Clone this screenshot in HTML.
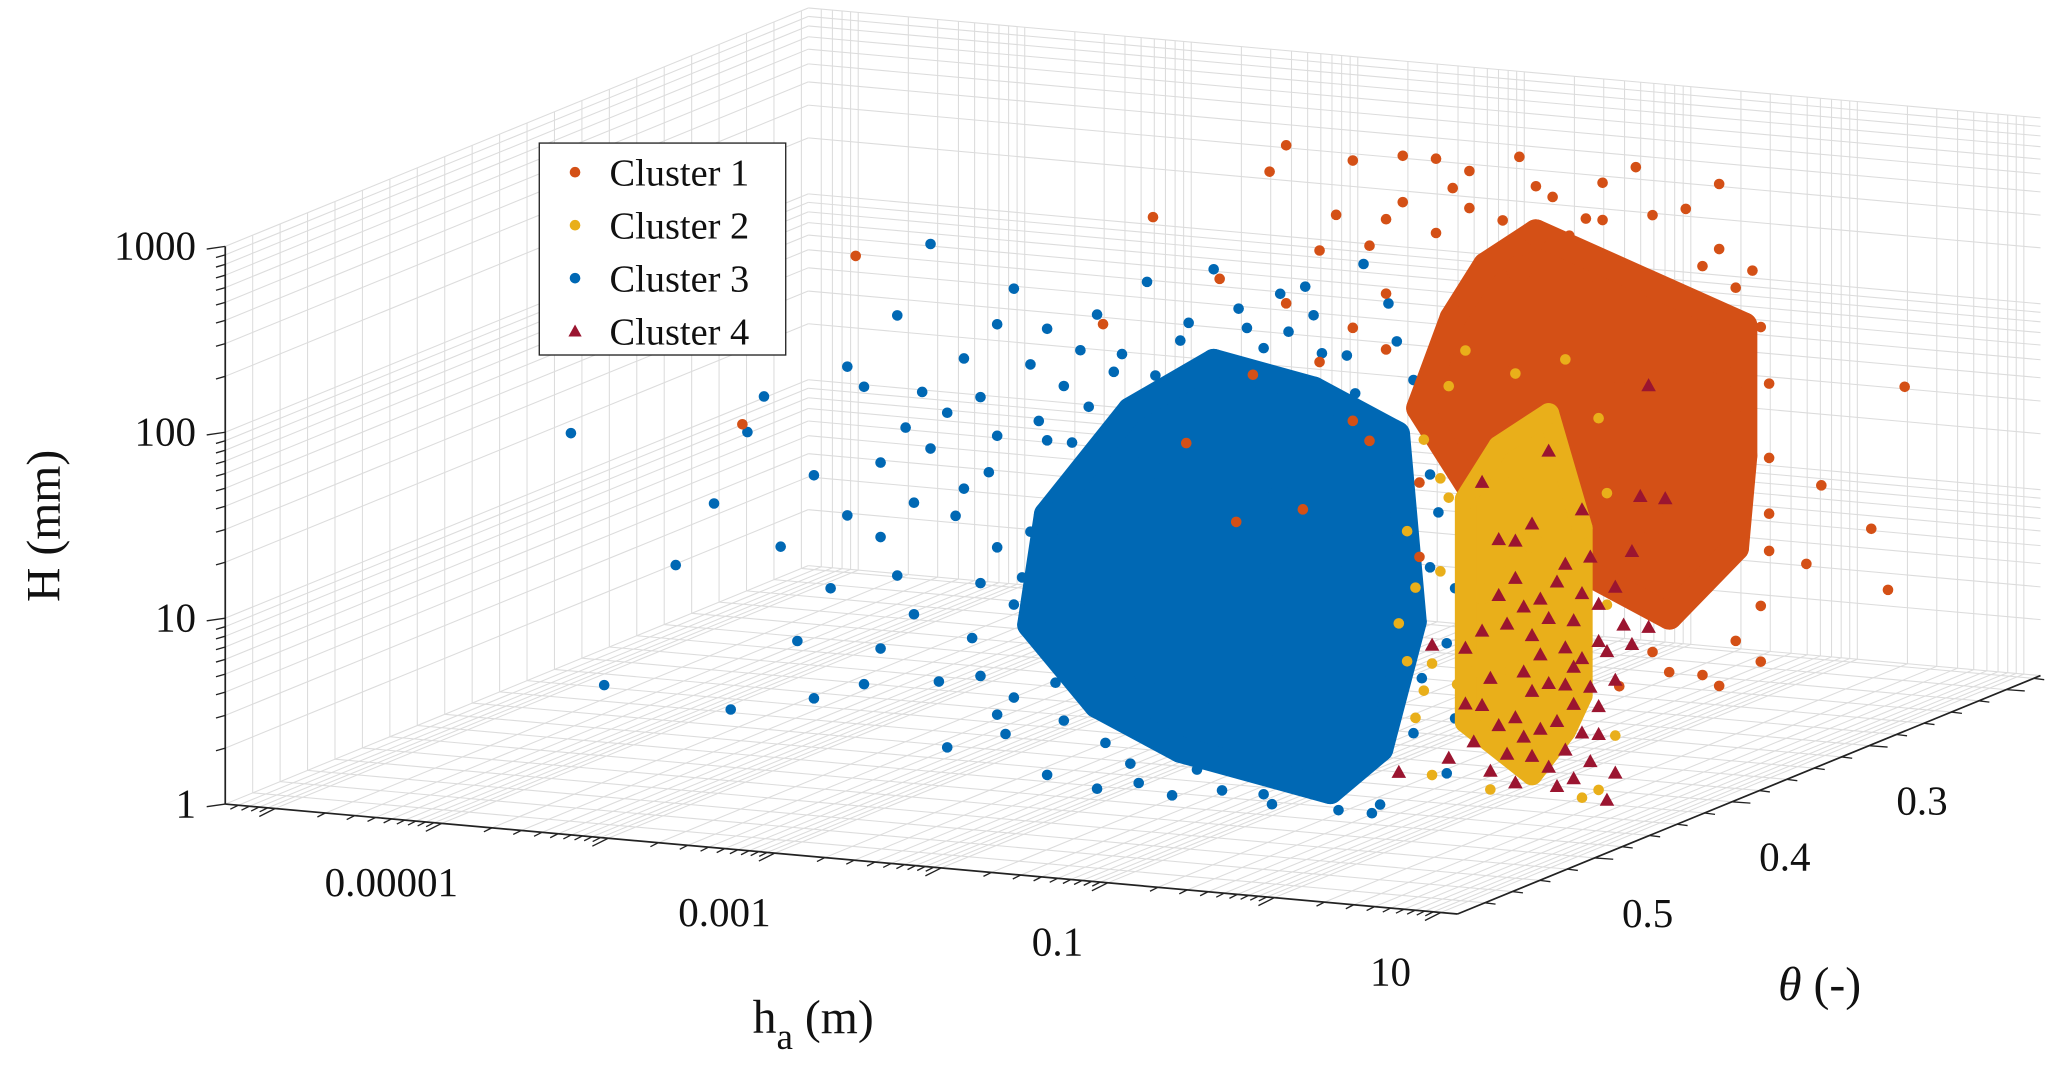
<!DOCTYPE html>
<html><head><meta charset="utf-8"><style>
html,body{margin:0;padding:0;background:#fff}
svg{display:block}
text{font-family:"Liberation Serif",serif;fill:#111}
</style></head><body>
<svg id="chart" width="2067" height="1069" viewBox="0 0 1560 807" preserveAspectRatio="none" xmlns="http://www.w3.org/2000/svg">
<g id="grid"></g>
<g id="axes"></g>
<g id="pts"></g>
<g id="legend">
<rect x="407" y="108" width="186" height="160" fill="#fff" stroke="#222" stroke-width="1"/>
<circle cx="434" cy="130" r="4" fill="#D45016"/><text x="460" y="140" font-size="29">Cluster 1</text>
<circle cx="434" cy="170" r="4" fill="#E9AF1A"/><text x="460" y="180" font-size="29">Cluster 2</text>
<circle cx="434" cy="210" r="4" fill="#0068B4"/><text x="460" y="220" font-size="29">Cluster 3</text>
<polygon points="434,245 439,254 429,254" fill="#9B1530"/><text x="460" y="260" font-size="29">Cluster 4</text>
</g>
<text x="45" y="397" font-size="36" text-anchor="middle" transform="rotate(-90 45 397)">H (mm)</text>
<text x="568" y="780" font-size="36">h<tspan font-size="28" dy="12">a</tspan><tspan dy="-12"> (m)</tspan></text>
<text x="1342" y="755" font-size="36"><tspan font-style="italic">θ</tspan> (-)</text>
</svg>
<script>
const clusterNames=["Cluster 1","Cluster 2","Cluster 3","Cluster 4"];
const zTicks=[0,1,2,3];
const zTickLabels=["1","10","100","1000"];
const xTicks=[-5,-3,-1,1];
const xTickLabels=["0.00001","0.001","0.1","10"];
const yTicks=[0.5,0.4,0.3];
const yTickLabels=["0.5","0.4","0.3"];
// points: [log10 ha, theta, log10 H]
const blueCore=[[-2.4,.45,1.0],[-2.2,.45,1.5],[-2.0,.45,0.6],[-1.9,.45,1.2],[-1.8,.45,1.8],[-1.7,.45,0.9],[-1.6,.45,0.4],[-1.5,.45,1.4],[-1.4,.45,2.0],[-1.3,.45,0.8],[-1.2,.45,1.6],[-1.1,.45,1.1],[-1.0,.45,0.5],[-0.9,.45,1.4],[-0.8,.45,1.9],[-0.7,.45,0.9],[-0.6,.45,0.3],[-1.5,.45,0.9],[-2.1,.45,2.0],[-1.0,.45,2.2],[-0.6,.45,1.5],[-2.6,.45,1.4],[-1.3,.45,0.2],[-1.8,.45,0.2],[-0.4,.45,1.0],[-0.9,.45,0.05],[-2.3,.45,0.4],[-1.6,.45,2.3],[-0.5,.45,2.0],[-2.7,.45,0.8],[-1.9,.45,0.6],[-1.2,.45,1.2],[-2.0,.45,1.7],[-1.1,.45,0.3],[-0.8,.45,1.2],[-1.4,.45,1.7],[-2.2,.45,1.1],[-1.7,.45,1.4]];
const blueSpread=[[-5.46,.45,1.61],[-5.26,.45,0.27],[-4.83,.45,0.95],[-4.6,.45,1.3],[-4.5,.45,0.2],[-4.3,.45,1.9],[-4.1,.45,0.6],[-4.0,.45,1.5],[-3.8,.45,2.1],[-3.7,.45,0.4],[-3.6,.45,1.2],[-3.5,.45,2.4],[-3.4,.45,0.8],[-3.3,.45,1.7],[-3.2,.45,0.1],[-3.1,.45,2.2],[-3.0,.45,1.0],[-2.9,.45,0.3],[-2.9,.45,1.8],[-2.8,.45,2.6],[-2.7,.45,1.3],[-2.6,.45,0.0],[-2.5,.45,2.1],[-2.4,.45,0.6],[-2.3,.45,2.5],[-2.2,.45,1.1],[-2.1,.45,0.1],[-2.0,.45,2.7],[-1.9,.45,1.7],[-1.8,.45,2.4],[-1.7,.45,0.1],[-1.6,.45,2.8],[-1.5,.45,1.9],[-1.4,.45,2.5],[-1.3,.45,0.0],[-1.2,.45,2.7],[-1.1,.45,2.0],[-1.0,.45,2.6],[-0.9,.45,0.2],[-0.8,.45,2.4],[-0.7,.45,2.9],[-0.6,.45,0.0],[-0.5,.45,2.5],[-0.4,.45,0.4],[-0.3,.45,1.8],[-0.2,.45,0.9],[-0.1,.45,2.2],[-0.2,.45,0.2],[-3.9,.45,0.9],[-3.3,.45,2.8],[-4.2,.45,1.1],[-2.6,.45,1.8],[-3.0,.45,0.5],[-2.0,.45,0.3],[-2.5,.45,1.5],[-3.6,.45,1.6],[-4.4,.45,1.7],[-1.2,.45,0.5],[-0.3,.45,1.3],[-2.8,.45,0.9],[-3.4,.45,1.4],[-2.7,.45,2.2],[-3.1,.45,1.5],[-2.4,.45,2.3],[-3.2,.45,1.9],[-2.9,.45,1.2],[-2.8,.45,0.4],[-3.5,.45,1.0],[-2.5,.45,0.3],[-2.2,.45,2.2],[-1.3,.45,2.4],[-0.4,.45,2.3],[-3.8,.45,1.3],[-3.0,.45,2.0],
[-3.05,.45,0.7],[-3.15,.45,1.35],[-2.95,.45,1.6],[-2.85,.45,0.2],[-2.75,.45,1.05],[-2.65,.45,1.9],[-2.55,.45,0.5],[-2.45,.45,1.8],[-2.35,.45,2.0],[-2.25,.45,0.2],[-2.15,.45,2.3],[-2.05,.45,0.0],[-1.95,.45,2.2],[-1.85,.45,-0.05],[-1.75,.45,2.5],[-1.55,.45,0.0],[-1.45,.45,2.6],[-1.25,.45,-0.05],[-1.15,.45,2.5],[-0.95,.45,2.4],[-0.85,.45,-0.05],[-0.75,.45,2.2],[-0.65,.45,-0.05],[-0.45,.45,1.5],[-0.35,.45,0.7],[-0.25,.45,1.6],[-0.35,.45,2.1],[-0.15,.45,0.5],[-0.15,.45,1.2],[-3.25,.45,0.45],[-3.35,.45,2.0],[-2.9,.45,2.4],[-3.6,.45,0.6],[-3.45,.45,1.8],[-2.3,.45,-0.05],[-0.55,.45,2.7],[-1.05,.45,2.75],[-2.6,.45,2.4],[-3.7,.45,2.0],[-4.0,.45,0.3]];
const orangeCore=[[-1.6,.3,1.6],[-1.4,.3,2.1],[-1.3,.3,1.2],[-1.1,.3,1.8],[-1.0,.3,2.4],[-0.9,.3,1.0],[-0.8,.3,1.5],[-0.7,.3,2.1],[-0.6,.3,0.8],[-0.5,.3,1.3],[-0.4,.3,1.9],[-0.3,.3,2.4],[-0.2,.3,1.1],[-0.1,.3,1.6],[0.0,.3,2.1],[0.1,.3,0.8],[0.2,.3,1.3],[0.3,.3,1.8],[0.35,.3,2.2],[0.3,.3,1.0],[0.1,.3,1.5],[-0.3,.3,0.9],[0.0,.3,1.2],[-0.6,.3,2.3],[0.2,.3,2.0],[0.35,.3,1.5],[-1.2,.3,2.4],[-0.9,.3,2.6],[-0.1,.3,0.6]];
const orangeSpread=[[-3.5,.3,1.9],[-3.2,.3,2.5],[-3.0,.3,1.3],[-2.8,.3,2.2],[-2.6,.3,1.7],[-2.5,.3,2.8],[-2.3,.3,1.0],[-2.2,.3,2.4],[-2.0,.3,2.9],[-1.9,.3,1.4],[-1.8,.3,2.6],[-1.6,.3,0.8],[-1.5,.3,2.95],[-1.3,.3,2.7],[-1.2,.3,0.6],[-1.0,.3,3.0],[-0.8,.3,2.8],[-0.7,.3,0.5],[-0.5,.3,2.9],[-0.3,.3,3.0],[-0.2,.3,0.4],[0.0,.3,2.8],[0.1,.3,0.3],[0.2,.3,2.6],[0.3,.3,0.5],[0.4,.3,2.5],[0.5,.3,1.2],[0.5,.3,1.9],[0.45,.3,0.7],[-0.1,.3,0.3],[-2.7,.3,0.9],[-2.0,.3,2.0],[-1.0,.3,0.4],[-0.4,.3,0.2],[0.2,.3,2.95],[-1.7,.3,2.95],[-2.4,.3,2.95],[0.49,.2,1.58],[0.29,.2,0.8],[-0.01,.2,1.01],[0.39,.2,0.48],[-0.1,.2,0.58],[-3.75,.45,2.7],[-4.43,.45,1.74],[-2.1,.3,2.6],[-1.4,.3,2.8],[-0.6,.3,2.7],[-2.4,.3,2.1],[-1.8,.3,2.2],[0.45,.3,2.2],[0.5,.3,1.5],
[-1.9,.3,2.45],[-1.7,.3,2.7],[-1.5,.3,2.55],[-1.3,.3,2.9],[-1.1,.3,2.65],[-0.9,.3,2.85],[-0.7,.3,2.6],[-0.5,.3,2.7],[-0.2,.3,2.75],[0.1,.3,2.5],[0.3,.3,2.4],[0.5,.3,1.0],[0.45,.3,0.4],[0.2,.3,0.25],[-2.2,.3,1.8],[-1.8,.3,1.9],[-1.6,.3,1.2],[-2.0,.3,1.5]];
const yellowCore=[[-0.5,.4,1.5],[-0.4,.4,1.0],[-0.3,.4,1.8],[-0.2,.4,0.6],[-0.1,.4,1.3],[0.0,.4,1.7],[0.1,.4,0.9],[0.1,.4,0.3],[-0.3,.4,0.2],[0.0,.4,2.0],[-0.2,.4,1.6],[0.2,.4,1.4],[-0.4,.4,0.6],[0.2,.4,0.5],[-0.1,.4,0.05],[0.0,.4,1.1],[-0.5,.4,0.3],[-0.3,.4,1.2]];
const yellowSpread=[[-0.9,.4,0.8],[-0.85,.4,1.3],[-0.8,.4,0.3],[-0.75,.4,1.8],[-0.7,.4,0.0],[-0.65,.4,1.1],[-0.6,.4,2.1],[-0.55,.4,0.5],[0.3,.4,2.0],[0.35,.4,1.0],[0.4,.4,0.3],[0.3,.4,0.0],[-0.2,.4,2.2],[0.1,.4,2.3],[-0.5,.4,2.3],[0.35,.4,1.6],[0.2,.4,-0.05],[-0.35,.4,-0.05],[-0.7,.4,0.6],[-0.6,.4,1.5],[-0.8,.4,1.0],[-0.75,.4,0.45],[-0.65,.4,1.6],[-0.85,.4,0.6]];
const redPts=[[-0.4,.4,0.8],[-0.3,.4,0.3],[-0.2,.4,1.1],[-0.1,.4,0.5],[0.0,.4,0.9],[0.1,.4,0.2],[0.2,.4,0.7],[-0.3,.4,1.3],[0.0,.4,0.1],[-0.5,.4,0.4],[0.3,.4,1.0],[0.2,.4,1.5],[-0.6,.4,0.1],[-0.1,.4,1.4],[0.3,.4,0.3],[-0.2,.4,0.0],[0.1,.4,1.2],[-0.4,.4,1.6],[0.4,.4,0.6],[0.0,.4,1.8],[-0.7,.4,0.7],[0.5,.4,1.3],[0.6,.4,2.2],[0.7,.4,1.6],[0.6,.4,0.9],[-0.9,.4,0.0],[0.35,.4,-0.05],[-0.15,.4,0.6],[0.15,.4,0.45],[-0.35,.4,0.05],[0.25,.4,0.15],[-0.05,.4,1.0],[0.1,.4,0.75],[-0.25,.4,0.85],[0.45,.4,0.9],[0.05,.4,0.35],[-0.45,.4,0.2],[0.0,.4,0.55],[0.2,.4,1.05],[-0.2,.4,0.35],[0.35,.4,0.75],[0.15,.4,0.05],[-0.1,.4,0.8],[0.4,.4,0.1],
[-0.35,.4,0.55],[-0.25,.4,0.15],[-0.15,.4,0.25],[-0.05,.4,0.7],[0.05,.4,1.1],[0.15,.4,0.9],[0.25,.4,0.55],[0.3,.4,0.8],[-0.3,.4,1.0],[-0.1,.4,0.15],[0.1,.4,0.55],[0.2,.4,0.3],[-0.4,.4,0.4],[0.05,.4,0.0],[0.25,.4,1.25],[-0.2,.4,1.3],[0.4,.4,1.1],[0.5,.4,0.8],[0.55,.4,1.6],[-0.05,.4,0.3],[0.3,.4,0.45],[-0.15,.4,0.95],[0.15,.4,0.65],[-0.5,.4,0.7]];

const NS="http://www.w3.org/2000/svg";
const X0=-6.3,X1=1.1,T0=0.6,T1=0.175,Z0=0,Z1=3;
function P(l,t,h){const a=(l-X0)/(X1-X0),b=(T0-t)/(T0-T1),c=(h-Z0)/(Z1-Z0);
 return [170+930*a+440*b,607+83*a-180*b-421*c];}
function el(tag,attrs,parent){const e=document.createElementNS(NS,tag);for(const k in attrs)e.setAttribute(k,attrs[k]);parent.appendChild(e);return e;}
function line(p,q,stroke,w,parent){return el('line',{x1:p[0],y1:p[1],x2:q[0],y2:q[1],stroke:stroke,'stroke-width':w},parent);}
const grid=document.getElementById('grid'),axes=document.getElementById('axes'),pts=document.getElementById('pts');
const G='#dcdcdc';
const xs=[];for(let d=-7;d<=1;d++)for(let k=1;k<10;k++){const v=d+Math.log10(k);if(v>=X0&&v<=X1)xs.push(v);}
const zs=[];for(let d=0;d<3;d++)for(let k=1;k<10;k++)zs.push(d+Math.log10(k));zs.push(3);
const ts=[];for(let t=0.18;t<=0.6;t+=0.02)ts.push(+t.toFixed(2));
xs.forEach(v=>{line(P(v,T1,Z0),P(v,T1,Z1),G,0.8,grid);line(P(v,T0,Z0),P(v,T1,Z0),G,0.8,grid);});
zs.forEach(v=>{line(P(X0,T1,v),P(X1,T1,v),G,0.8,grid);line(P(X0,T0,v),P(X0,T1,v),G,0.8,grid);});
ts.forEach(v=>{line(P(X0,v,Z0),P(X1,v,Z0),G,0.8,grid);line(P(X0,v,Z0),P(X0,v,Z1),G,0.8,grid);});
line(P(X0,T0,Z0),P(X0,T0,Z1),'#222',1.3,axes);
line(P(X0,T0,Z0),P(X1,T0,Z0),'#222',1.3,axes);
line(P(X1,T0,Z0),P(X1,T1,Z0),'#222',1.3,axes);
zs.forEach(v=>{const p=P(X0,T0,v);const maj=Number.isInteger(v);line(p,[p[0]-(maj?14:7),p[1]+2],'#222',1,axes);});
zTicks.forEach((v,i)=>{const p=P(X0,T0,v);const t=el('text',{x:p[0]-22,y:p[1]+10,'font-size':31,'text-anchor':'end'},axes);t.textContent=zTickLabels[i];

});
xs.forEach(v=>{const p=P(v,T0,Z0);const maj=Math.abs(v-Math.round(v))<1e-9;line(p,[p[0]-(maj?12:6),p[1]+(maj?6:3)],'#222',1,axes);});
xTicks.forEach((v,i)=>{const p=P(v,T0,Z0);const t=el('text',{x:p[0]-38,y:p[1]+55,'font-size':31,'text-anchor':'middle'},axes);t.textContent=xTickLabels[i];

});
ts.forEach(v=>{const p=P(X1,v,Z0);const maj=Math.abs(v*10-Math.round(v*10))<1e-6;line(p,[p[0]+(maj?14:8),p[1]+1],'#222',1,axes);});
yTicks.forEach((v,i)=>{const p=P(X1,v,Z0);const t=el('text',{x:p[0]+40,y:p[1]+52,'font-size':31,'text-anchor':'middle'},axes);t.textContent=yTickLabels[i];

});
function hull(arr){const p=arr.map(d=>P(d[0],d[1],d[2])).sort((a,b)=>a[0]-b[0]||a[1]-b[1]);
 const cr=(o,a,b)=>(a[0]-o[0])*(b[1]-o[1])-(a[1]-o[1])*(b[0]-o[0]);const lo=[],up=[];
 for(const q of p){while(lo.length>=2&&cr(lo[lo.length-2],lo[lo.length-1],q)<=0)lo.pop();lo.push(q);}
 for(let i=p.length-1;i>=0;i--){const q=p[i];while(up.length>=2&&cr(up[up.length-2],up[up.length-1],q)<=0)up.pop();up.push(q);}
 return lo.slice(0,-1).concat(up.slice(0,-1));}
function blob(arr,color,r,name){const h=hull(arr);const g=el('polygon',{points:h.map(q=>q[0].toFixed(1)+','+q[1].toFixed(1)).join(' '),fill:color,stroke:color,'stroke-width':2*r,'stroke-linejoin':'round'},pts);


dots(arr,color,r,name+'-point');}
function dots(arr,color,r,name){arr.forEach(d=>{const p=P(d[0],d[1],d[2]);const c=el('circle',{cx:p[0].toFixed(1),cy:p[1].toFixed(1),r:r,fill:color},pts);

});}
function tris(arr,color,s,name){arr.forEach(d=>{const p=P(d[0],d[1],d[2]);const x=p[0],y=p[1];const c=el('polygon',{points:`${x},${y-s} ${x+s},${y+s*0.8} ${x-s},${y+s*0.8}`,fill:color},pts);

});}
dots(blueSpread,'#0068B4',4,'cluster-3-point');
blob(blueCore,'#0068B4',10,'cluster-3-core');
dots(orangeSpread,'#D45016',4,'cluster-1-point');
blob(orangeCore,'#D45016',10,'cluster-1-core');
dots(yellowSpread,'#E9AF1A',4,'cluster-2-point');
blob(yellowCore,'#E9AF1A',8,'cluster-2-core');
tris(redPts,'#9B1530',5.5,'cluster-4-point');
</script>
</body></html>
